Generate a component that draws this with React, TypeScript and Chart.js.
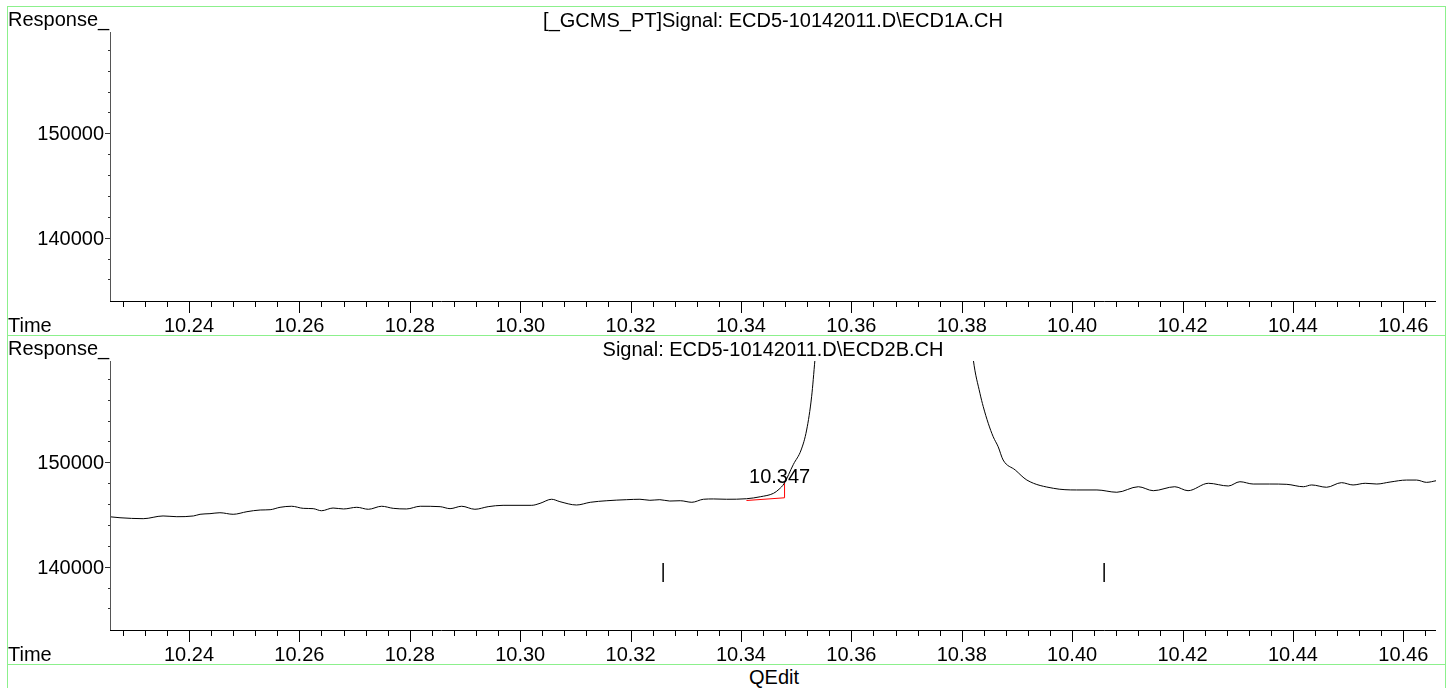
import React, { useEffect, useRef } from "react";
import { Chart, registerables } from "chart.js";

Chart.register(...registerables);

// ---- axis ranges & ticks ----
const X_MIN = 10.225687;
const X_MAX = 10.465924;
const Y_MIN = 133937;
const Y_MAX = 159703;

const X_MAJOR_TICKS = [10.24, 10.26, 10.28, 10.3, 10.32, 10.34, 10.36, 10.38, 10.4, 10.42, 10.44, 10.46];
const X_TICK_LABELS = ["10.24", "10.26", "10.28", "10.30", "10.32", "10.34", "10.36", "10.38", "10.40", "10.42", "10.44", "10.46"];
const X_MINOR_TICKS = [
  10.228, 10.232, 10.236, 10.244, 10.248, 10.252, 10.256, 10.264, 10.268, 10.272, 10.276,
  10.284, 10.288, 10.292, 10.296, 10.304, 10.308, 10.312, 10.316, 10.324, 10.328, 10.332, 10.336,
  10.344, 10.348, 10.352, 10.356, 10.364, 10.368, 10.372, 10.376, 10.384, 10.388, 10.392, 10.396,
  10.404, 10.408, 10.412, 10.416, 10.424, 10.428, 10.432, 10.436, 10.444, 10.448, 10.452, 10.456, 10.464,
];
const Y_MAJOR_TICKS = [140000, 150000];
const Y_TICK_LABELS = ["140000", "150000"];
const Y_MINOR_TICKS = [136000, 138000, 142000, 144000, 146000, 148000, 152000, 154000, 156000, 158000];

const Y_AXIS_TITLE = "Response_";
const X_AXIS_TITLE = "Time";
const TITLE_A = "[_GCMS_PT]Signal: ECD5-10142011.D\\ECD1A.CH";
const TITLE_B = "Signal: ECD5-10142011.D\\ECD2B.CH";
const FOOTER = "QEdit";

// ---- signal B (ECD2B) ----
const SIGNAL_B_TIME = [
  10.2255, 10.2275, 10.2317, 10.2353, 10.2378, 10.2408, 10.2420, 10.2438, 10.2456, 10.2480,
  10.2505, 10.2529, 10.2547, 10.2565, 10.2586, 10.2607, 10.2625, 10.2640, 10.2661, 10.2680,
  10.2704, 10.2725, 10.2749, 10.2770, 10.2794, 10.2819, 10.2855, 10.2873, 10.2894, 10.2918,
  10.2942, 10.2969, 10.3021, 10.3036, 10.3057, 10.3072, 10.3102, 10.3127, 10.3157, 10.3193,
  10.3217, 10.3235, 10.3253, 10.3271, 10.3290, 10.3311, 10.3332, 10.3350, 10.3374, 10.3410,
  10.3435, 10.3459, 10.3469, 10.3478, 10.3495, 10.3509, 10.3519, 10.3528, 10.3534, 10.3540,
  10.3680, 10.3815, 10.3821, 10.3833, 10.3839, 10.3848, 10.3857, 10.3866, 10.3875, 10.3897,
  10.3918, 10.3966, 10.4008, 10.4045, 10.4081, 10.4120, 10.4147, 10.4186, 10.4210, 10.4247,
  10.4283, 10.4304, 10.4328, 10.4358, 10.4389, 10.4419, 10.4434, 10.4461, 10.4488, 10.4509,
  10.4531, 10.4552, 10.4576, 10.4606, 10.4624, 10.4642, 10.4660,
];
const SIGNAL_B_RESPONSE = [
  144790, 144690, 144600, 144860, 144790, 144860, 145020, 145080, 145170, 145020,
  145270, 145430, 145460, 145690, 145790, 145590, 145560, 145360, 145620, 145530,
  145690, 145500, 145790, 145590, 145530, 145790, 145750, 145560, 145790, 145500,
  145750, 145880, 145880, 146070, 146460, 146230, 145910, 146170, 146320, 146420,
  146460, 146360, 146420, 146290, 146320, 146170, 146460, 146490, 146460, 146510,
  146700, 147030, 147420, 147950, 149800, 151180, 153090, 156280, 159800, 163500,
  260000, 163000, 159800, 156610, 155330, 153740, 152450, 151490, 150220, 149260,
  148300, 147510, 147350, 147350, 147130, 147660, 147280, 147660, 147280, 147990,
  147730, 148140, 147920, 147920, 147890, 147660, 147830, 147610, 148050, 147830,
  147990, 147920, 148110, 148300, 148300, 148080, 148240,
];

// integration baseline (red)
const BASELINE_TIME = [10.341, 10.3479, 10.3479];
const BASELINE_RESPONSE = [146340, 146600, 148020];

// retention-window markers
const MARKER_TIMES = [10.3259, 10.4058];
const MARKER_TOP = 140350;
const MARKER_BOTTOM = 138530;

// peak label
const PEAK_LABEL = "10.347";
const PEAK_LABEL_TIME = 10.347;
const PEAK_LABEL_RESPONSE = 147990;

const FONT = '20px "Liberation Sans", Arial, Helvetica, sans-serif';
const BORDER_GREEN = "#8cf08c";

const CANVAS_W = 1439;
const CANVAS_H = 329;

function decorPlugin(title: string, showPeak: boolean) {
  return {
    id: "panelDecor",
    afterDraw(chart: any) {
      const ctx = chart.ctx;
      const { left, right, top, bottom } = chart.chartArea;
      const xs = chart.scales.x;
      const ys = chart.scales.y;
      ctx.save();
      ctx.font = FONT;
      ctx.fillStyle = "#000";
      ctx.textBaseline = "alphabetic";

      ctx.textAlign = "left";
      ctx.fillText(Y_AXIS_TITLE, 1, 19);
      ctx.textAlign = "center";
      ctx.fillText(title, (left + right) / 2, 19.5);
      ctx.textAlign = "left";
      ctx.fillText(X_AXIS_TITLE, 1, bottom + 31);

      // y axis line
      ctx.lineWidth = 1;
      ctx.strokeStyle = "#555";
      ctx.beginPath();
      ctx.moveTo(left + 0.5, top);
      ctx.lineTo(left + 0.5, bottom + 1);
      ctx.stroke();

      // x axis line
      ctx.strokeStyle = "#000";
      ctx.beginPath();
      ctx.moveTo(left, bottom + 0.5);
      ctx.lineTo(right, bottom + 0.5);
      ctx.stroke();

      // x ticks
      ctx.beginPath();
      X_MINOR_TICKS.forEach((v) => {
        const px = Math.round(xs.getPixelForValue(v)) + 0.5;
        ctx.moveTo(px, bottom);
        ctx.lineTo(px, bottom + 6);
      });
      X_MAJOR_TICKS.forEach((v) => {
        const px = Math.round(xs.getPixelForValue(v)) + 0.5;
        ctx.moveTo(px, bottom);
        ctx.lineTo(px, bottom + 12);
      });
      ctx.stroke();

      // y ticks
      ctx.strokeStyle = "#333";
      ctx.beginPath();
      Y_MINOR_TICKS.forEach((v) => {
        const py = Math.round(ys.getPixelForValue(v)) + 0.5;
        ctx.moveTo(left - 2, py);
        ctx.lineTo(left, py);
      });
      Y_MAJOR_TICKS.forEach((v) => {
        const py = Math.round(ys.getPixelForValue(v)) + 0.5;
        ctx.moveTo(left - 5, py);
        ctx.lineTo(left, py);
      });
      ctx.stroke();

      // tick labels
      ctx.textAlign = "center";
      X_MAJOR_TICKS.forEach((v, i) => {
        ctx.fillText(X_TICK_LABELS[i], xs.getPixelForValue(v), bottom + 31);
      });
      ctx.textAlign = "right";
      Y_MAJOR_TICKS.forEach((v, i) => {
        ctx.fillText(Y_TICK_LABELS[i], left - 6, ys.getPixelForValue(v) + 7);
      });

      if (showPeak) {
        ctx.textAlign = "center";
        ctx.fillText(PEAK_LABEL, xs.getPixelForValue(PEAK_LABEL_TIME), ys.getPixelForValue(PEAK_LABEL_RESPONSE));
      }
      ctx.restore();
    },
  };
}

function Panel(props: { top: number; title: string; withData: boolean }) {
  const ref = useRef<HTMLCanvasElement>(null);
  useEffect(() => {
    const datasets: any[] = [];
    if (props.withData) {
      datasets.push({
        label: "signal",
        data: SIGNAL_B_TIME.map((t, i) => ({ x: t, y: SIGNAL_B_RESPONSE[i] })),
        borderColor: "#000",
        borderWidth: 1,
        pointRadius: 0,
        fill: false,
        cubicInterpolationMode: "monotone",
      });
      datasets.push({
        label: "baseline",
        data: BASELINE_TIME.map((t, i) => ({ x: t, y: BASELINE_RESPONSE[i] })),
        borderColor: "#ff0000",
        borderWidth: 1,
        pointRadius: 0,
        fill: false,
        tension: 0,
      });
      const markerData: any[] = [];
      MARKER_TIMES.forEach((t, i) => {
        if (i > 0) markerData.push({ x: t, y: null });
        markerData.push({ x: t, y: MARKER_TOP });
        markerData.push({ x: t, y: MARKER_BOTTOM });
      });
      datasets.push({
        label: "markers",
        data: markerData,
        borderColor: "#000",
        borderWidth: 1.5,
        pointRadius: 0,
        fill: false,
        tension: 0,
        spanGaps: false,
      });
    }
    const chart = new Chart(ref.current as HTMLCanvasElement, {
      type: "line",
      data: { datasets },
      options: {
        animation: false,
        responsive: false,
        maintainAspectRatio: false,
        events: [],
        parsing: false as any,
        normalized: true,
        layout: { padding: { left: 103, top: 25, right: 10, bottom: 35 } },
        plugins: {
          legend: { display: false },
          tooltip: { enabled: false },
          title: { display: false },
        },
        scales: {
          x: { type: "linear", min: X_MIN, max: X_MAX, display: false },
          y: { type: "linear", min: Y_MIN, max: Y_MAX, display: false },
        },
      } as any,
      plugins: [decorPlugin(props.title, props.withData)],
    });
    return () => chart.destroy();
  }, []);
  return (
    <canvas
      ref={ref}
      width={CANVAS_W}
      height={CANVAS_H}
      style={{ position: "absolute", left: 7, top: props.top, width: CANVAS_W, height: CANVAS_H }}
    />
  );
}

function Line(props: { x: number; y: number; w: number; h: number }) {
  return (
    <div
      style={{
        position: "absolute",
        left: props.x,
        top: props.y,
        width: props.w,
        height: props.h,
        background: BORDER_GREEN,
      }}
    />
  );
}

export default function App() {
  return (
    <div
      style={{
        position: "fixed",
        left: 0,
        top: 0,
        width: 1452,
        height: 688,
        background: "#fff",
        overflow: "hidden",
      }}
    >
      <Panel top={7} title={TITLE_A} withData={false} />
      <Panel top={336} title={TITLE_B} withData={true} />
      <Line x={7} y={6} w={1439} h={1} />
      <Line x={7} y={335} w={1439} h={1} />
      <Line x={7} y={664} w={1439} h={1} />
      <Line x={7} y={6} w={1} h={682} />
      <Line x={1445} y={6} w={1} h={682} />
      <div
        style={{
          position: "absolute",
          left: 674,
          width: 200,
          top: 667,
          textAlign: "center",
          font: FONT,
          lineHeight: "20px",
          color: "#000",
        }}
      >
        {FOOTER}
      </div>
    </div>
  );
}
